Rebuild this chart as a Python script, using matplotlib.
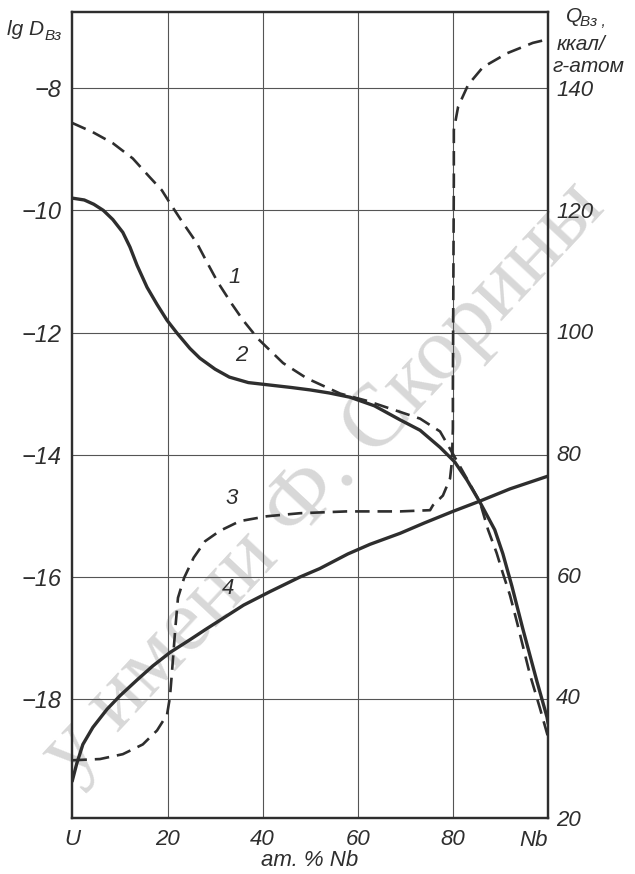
import numpy as np
import matplotlib.pyplot as plt

# curve 1 (dashed) and curve 2 (solid): lg D, left axis
x1 = [0, 4.3, 8.5, 12.7, 16.3, 18.8, 20.5, 23.2, 26.2, 28.3, 30.6, 33.5, 35.9,
      39, 44.3, 49.3, 56.3, 62, 68.9, 73.1, 77.3, 80.1, 83, 85.7, 87.4, 89.2,
      90.5, 92, 93.5, 96.2, 98.3, 100]
lg1 = [-8.57, -8.72, -8.9, -9.15, -9.46, -9.67, -9.88, -10.2, -10.54, -10.85,
       -11.18, -11.53, -11.8, -12.1, -12.5, -12.75, -13.0, -13.12, -13.3,
       -13.41, -13.62, -14.0, -14.4, -14.78, -15.23, -15.61, -15.94, -16.3,
       -16.75, -17.6, -18.15, -18.62]

x2 = [0, 2.5, 4.5, 6.5, 8.5, 10.6, 12.1, 13.6, 15.7, 17.8, 19.9, 22, 24.7,
      26.8, 30, 33, 37, 41.5, 46, 50, 54, 58.4, 63.5, 68.9, 73.1, 77.3, 80.4,
      83, 85.7, 88.8, 90.5, 92.4, 94.7, 97.7, 99.8, 100]
lg2 = [-9.8, -9.83, -9.9, -10.0, -10.15, -10.36, -10.6, -10.9, -11.26,
       -11.54, -11.8, -12.01, -12.26, -12.42, -12.6, -12.73, -12.82, -12.86,
       -12.9, -12.94, -12.99, -13.06, -13.2, -13.43, -13.6, -13.88, -14.12,
       -14.42, -14.78, -15.23, -15.62, -16.15, -16.85, -17.72, -18.3, -18.39]

# curve 3 (dashed) and curve 4 (solid): Q, right axis
x3 = [0, 5.8, 10.6, 14.8, 17.8, 19.9, 20.5, 20.9, 21.6, 22.2, 23.5, 25.5,
      27.9, 31, 35.2, 40.9, 47.8, 57.7, 68.9, 75.2, 75.8, 77.9, 79.4, 79.8,
      80.0, 80.0, 80.2, 80.2, 81.1, 83.2, 86.3, 91.4, 96.8, 100]
q3 = [29.5, 29.7, 30.5, 32.1, 34.4, 37.0, 39.8, 43.6, 50.8, 56.2, 59.5, 62.8,
      65.5, 67.2, 68.8, 69.6, 70.1, 70.4, 70.4, 70.6, 71.4, 73, 75.8, 78.6,
      84, 91, 124.9, 133.1, 136.9, 140.5, 143.4, 145.7, 147.4, 148]

x4 = [0, 0.9, 2.2, 4.3, 7.3, 10, 13.6, 16.9, 20.5, 24.7, 28, 31.6, 36, 41.5,
      47.8, 52, 57.9, 62.6, 68.9, 74, 80, 85.7, 92, 100]
q4 = [26.2, 28.9, 32.1, 34.9, 37.9, 40.1, 42.7, 45.0, 47.2, 49.3, 51.0, 52.8,
      55, 57.2, 59.6, 61.0, 63.4, 65.0, 66.8, 68.5, 70.4, 72.1, 74.1, 76.2]

x_ticks = [0, 20, 40, 60, 80, 100]
x_labels = ['U', '20', '40', '60', '80', '']
lg_ticks = [-8, -10, -12, -14, -16, -18]
q_ticks = [140, 120, 100, 80, 60, 40, 20]

fonts = ['Liberation Sans', 'DejaVu Sans']
plt.rcParams['font.family'] = fonts
plt.rcParams['font.style'] = 'italic'
ink = '#2e2e2e'
W, H = 635.0, 874.0

fig = plt.figure(figsize=(6.35, 8.74), dpi=100)
ax = fig.add_axes([0.114, 0.064, 0.749, 0.922])
ax.set_facecolor('none')
ax.set_xlim(0, 100)
ax.set_ylim(-19.95, -6.756)

ax2 = ax.twinx()
ax2.set_ylim(140 + 10 * (-19.95 + 8), 140 + 10 * (-6.756 + 8))

ax.set_xticks(x_ticks)
ax.set_xticklabels(x_labels, fontsize=16)
ax.set_yticks(lg_ticks)
ax.set_yticklabels(['\u2212%d' % abs(v) for v in lg_ticks], fontsize=17)
ax2.set_yticks(q_ticks)
ax2.set_yticklabels([str(v) for v in q_ticks], fontsize=16)
ax.tick_params(length=0, pad=8, colors=ink)
ax2.tick_params(length=0, pad=6, colors=ink)

for v in x_ticks[1:-1]:
    ax.axvline(v, color='#555555', lw=0.8, zorder=1)
for v in lg_ticks:
    ax.axhline(v, color='#555555', lw=0.8, zorder=1)

for a in (ax, ax2):
    for s in a.spines.values():
        s.set_linewidth(1.6)
        s.set_color(ink)

ax.plot(x1, lg1, color=ink, lw=1.9, dashes=(5.5, 3), zorder=3)
ax.plot(x2, lg2, color=ink, lw=2.4, zorder=3)
ax2.plot(x3, q3, color=ink, lw=1.9, dashes=(5.5, 3), zorder=3)
ax2.plot(x4, q4, color=ink, lw=2.4, zorder=3)

ax.text(34.2, -11.1, '1', fontsize=16, color=ink, ha='center', va='center')
ax.text(35.6, -12.37, '2', fontsize=16, color=ink, ha='center', va='center')
ax2.text(33.5, 72.6, '3', fontsize=16, color=ink, ha='center', va='center')
ax2.text(32.7, 57.8, '4', fontsize=16, color=ink, ha='center', va='center')

# axis captions
fig.text(44 / W, 1 - 35 / H, 'lg D', fontsize=15, color=ink, ha='right', va='baseline')
fig.text(45 / W, 1 - 40 / H, 'Вз', fontsize=11, color=ink, va='baseline')
fig.text(566 / W, 1 - 22 / H, 'Q', fontsize=15, color=ink, va='baseline')
fig.text(580 / W, 1 - 26 / H, 'Вз ,', fontsize=11, color=ink, va='baseline')
fig.text(557 / W, 1 - 50 / H, 'ккал/', fontsize=15, color=ink, va='baseline')
fig.text(553 / W, 1 - 72 / H, 'г-атом', fontsize=15, color=ink, va='baseline')
fig.text(534 / W, 1 - 846 / H, 'Nb', fontsize=16, color=ink, ha='center')
fig.text(310 / W, 1 - 866 / H, 'ат. % Nb', fontsize=16, color=ink, ha='center')

# library watermark of the scan
fig.text(0.51, 0.45, 'у имени Ф. Скорины', fontsize=64, color='#d8d8d8',
         style='normal', family=['Liberation Serif', 'DejaVu Serif'],
         rotation=47, ha='center', va='center', zorder=-1)

fig.savefig('out.png', dpi=100)
